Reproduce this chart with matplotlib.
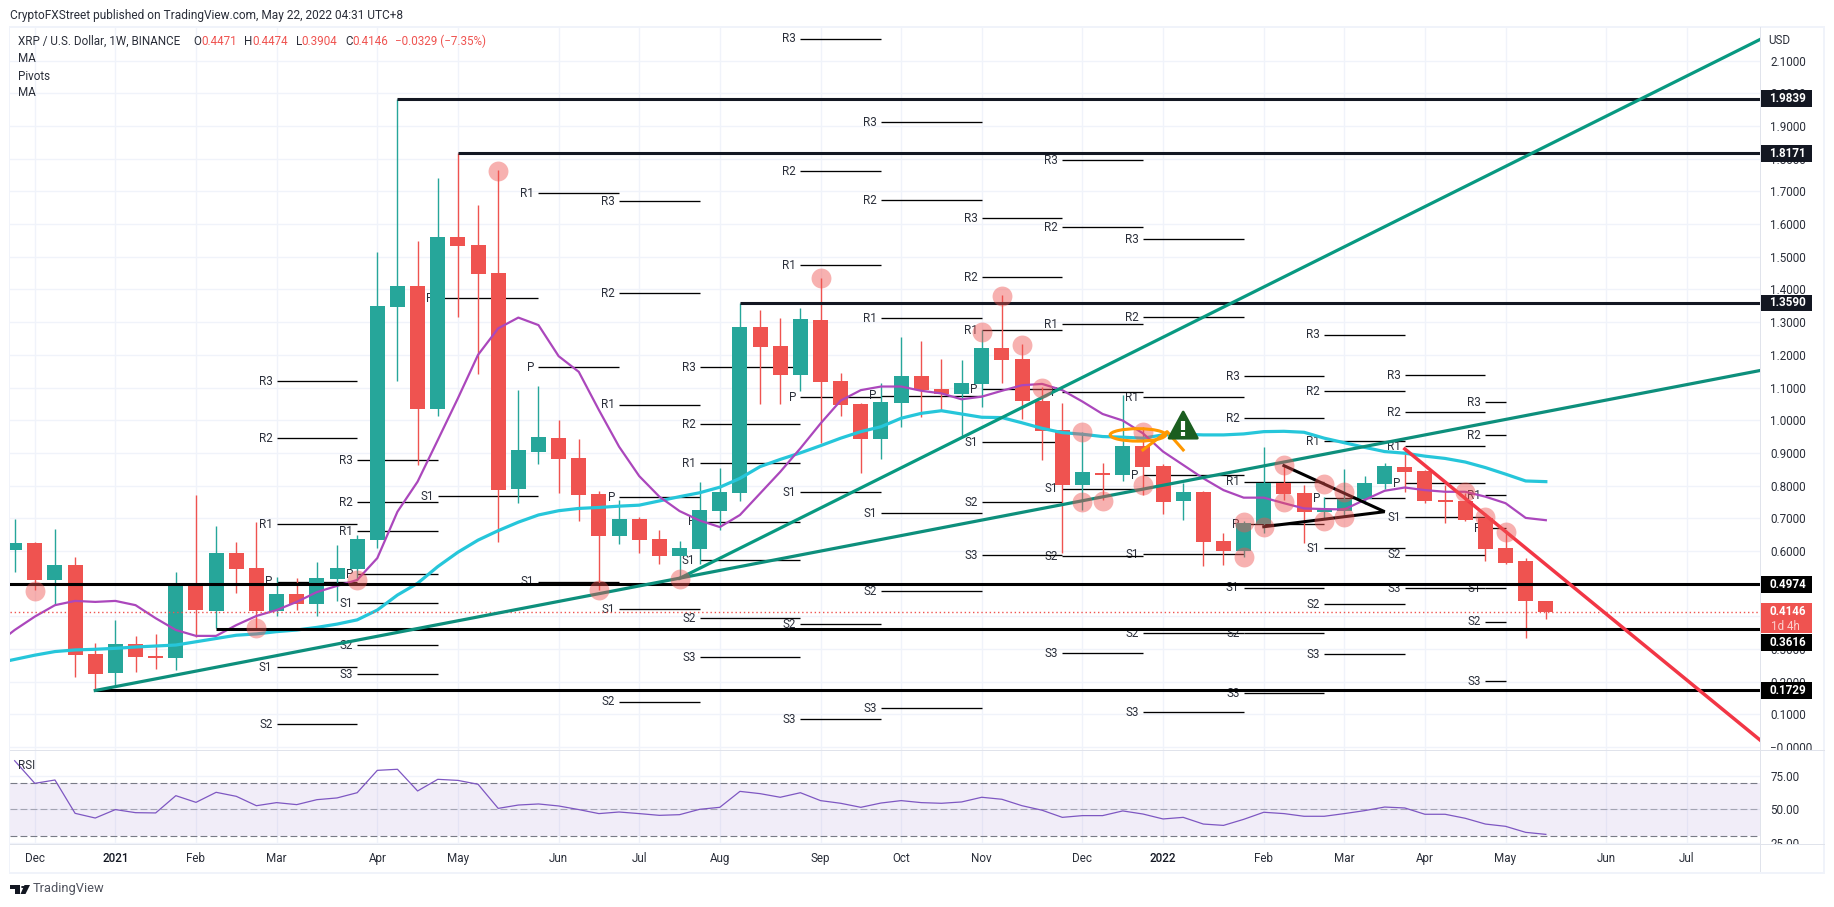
import numpy as np
import matplotlib
matplotlib.use('Agg')
import matplotlib.pyplot as plt
from matplotlib.patches import Rectangle, Ellipse, Polygon, Circle
from matplotlib.transforms import blended_transform_factory, Bbox

W, H = 1834, 907
GREEN = '#26a69a'
RED = '#ef5350'
DARK = '#131722'
GRID = '#f0f3fa'
BORDER = '#e0e3eb'
TEXT = '#2a2e39'

plt.rcParams['font.family'] = ['Roboto', 'DejaVu Sans']

# weekly candles, week 0 is the first December 2020 bar
weeks = np.arange(-1, 76)
opens = [.603, .624, .511, .557, .284, .226, .315, .278, .272, .499, .416, .594, .548, .416, .468, .438,
         .514, .545, .633, 1.346, 1.411, 1.034, 1.561, 1.536, 1.450, .789, .903, .946, .884, .774, .646,
         .698, .636, .584, .606, .722, .777, 1.285, 1.227, 1.138, 1.307, 1.120, 1.050, .943, 1.053, 1.135,
         1.095, 1.080, 1.111, 1.221, 1.187, 1.059, .970, .802, .838, .832, .921, .860, .753, .780, .630,
         .600, .682, .808, .777, .719, .722, .759, .805, .857, .845, .756, .753, .701, .609, .569, .4471]
highs = [.698, .626, .667, .581, .318, .389, .340, .346, .535, .771, .676, .627, .688, .520, .517, .566,
         .618, .649, 1.515, 1.984, 1.548, 1.741, 1.817, 1.658, 1.766, 1.092, 1.105, 1.001, .943, .783, .756,
         .704, .664, .630, .811, .854, 1.359, 1.337, 1.313, 1.343, 1.435, 1.144, 1.054, 1.114, 1.255, 1.242,
         1.187, 1.184, 1.276, 1.383, 1.233, 1.102, 1.052, .964, .869, 1.077, .980, .866, .808, .782, .655,
         .692, .918, .863, .802, .766, .851, .829, .869, .912, .847, .802, .776, .715, .664, .578, .4474]
lows = [.535, .480, .438, .215, .173, .190, .230, .239, .236, .336, .364, .471, .364, .401, .419, .401,
        .447, .511, .609, 1.121, .863, 1.013, 1.317, 1.141, .627, .747, .866, .777, .692, .480, .621,
        .594, .560, .521, .560, .664, .753, 1.050, 1.050, 1.089, .930, 1.013, .838, .881, .979, 1.010,
        1.028, .952, 1.041, 1.114, 1.004, .878, .594, .725, .756, .814, .771, .713, .695, .554, .557,
        .581, .654, .756, .624, .700, .705, .745, .789, .780, .747, .685, .693, .569, .560, .334, .3904]
closes = [.624, .511, .557, .282, .223, .315, .275, .272, .499, .419, .594, .545, .416, .468, .438, .517,
          .548, .636, 1.349, 1.411, 1.034, 1.561, 1.533, 1.447, .786, .909, .949, .881, .771, .646, .698,
          .633, .584, .609, .725, .780, 1.285, 1.224, 1.138, 1.310, 1.117, 1.047, .943, 1.056, 1.135, 1.092,
          1.080, 1.114, 1.221, 1.184, 1.059, .967, .802, .841, .832, .921, .857, .750, .780, .627, .600,
          .685, .808, .774, .719, .725, .759, .808, .860, .841, .753, .750, .695, .606, .563, .447, .4146]

# moving averages
ma_weeks = np.arange(-2, 76)
ma_purple = [.310, .358, .399, .434, .447, .444, .447, .434, .394, .358, .340, .340, .373, .401, .419, .444,
             .474, .493, .511, .578, .720, .812, .939, 1.067, 1.200, 1.281, 1.314, 1.291, 1.196, 1.148, 1.031,
             .919, .829, .766, .722, .693, .673, .710, .776, .842, .914, .990, 1.060, 1.092, 1.103, 1.103,
             1.090, 1.082, 1.064, 1.072, 1.090, 1.107, 1.111, 1.092, 1.057, 1.019, .999, .960, .904, .863,
             .822, .786, .763, .763, .746, .730, .728, .727, .756, .784, .794, .786, .781, .781, .766, .746,
             .701, .694]
ma_cyan = [.255, .268, .281, .292, .297, .299, .302, .306, .309, .312, .322, .332, .342, .346, .353, .358,
           .366, .376, .389, .419, .465, .501, .552, .596, .633, .662, .688, .710, .723, .730, .733, .737,
           .740, .753, .766, .778, .795, .822, .858, .880, .900, .922, .945, .965, .980, 1.006, 1.021, 1.029,
           1.019, 1.009, 1.008, .992, .975, .962, .957, .950, .948, .945, .955, .957, .955, .955, .958, .965,
           .966, .963, .945, .931, .917, .904, .899, .890, .883, .872, .855, .835, .814, .812]

rsi_values = [86.3, 69.4, 71.9, 47.0, 43.5, 49.8, 47.5, 47.3, 60.2, 55.2, 62.7, 59.7, 52.7, 55.0, 53.5, 57.2,
              58.5, 62.4, 79.1, 79.9, 63.7, 72.4, 71.6, 68.7, 50.7, 53.2, 54.0, 52.5, 49.8, 46.8, 48.0, 46.8,
              45.5, 46.0, 50.0, 51.5, 63.4, 61.7, 59.0, 62.4, 56.5, 54.5, 51.5, 54.7, 56.5, 55.0, 54.5, 55.5,
              59.0, 57.5, 52.7, 49.3, 44.0, 45.3, 45.3, 48.8, 46.5, 42.8, 44.0, 39.0, 38.0, 42.5, 47.8, 46.8,
              44.8, 44.8, 46.8, 49.0, 51.7, 51.0, 46.3, 46.3, 43.3, 39.0, 37.3, 32.8, 31.3]

# pivot periods
pivot_starts = [12, 16, 20, 25, 29, 33, 38, 42, 47, 51, 55, 60, 64, 68, 72]
pivot_ends = [16, 20, 25, 29, 33, 38, 42, 47, 51, 55, 60, 64, 68, 72, 73]
pivot_r3 = [1.119, .877, None, None, 1.670, 1.162, 2.168, 1.911, 1.618, 1.795, 1.553, 1.135, 1.261, 1.137, 1.055]
pivot_r2 = [.944, .749, None, None, 1.388, .987, 1.762, 1.673, 1.437, 1.590, 1.315, 1.006, 1.088, 1.024, .954]
pivot_r1 = [.681, .660, 2.21, 1.694, 1.047, .868, 1.474, 1.312, 1.275, 1.293, 1.070, .812, .935, .920, .770]
pivot_p = [.506, .528, 1.373, 1.162, .764, .690, 1.070, 1.075, 1.094, 1.085, .831, .681, .761, .807, .669]
pivot_s1 = [.244, .440, .767, .506, .421, .571, .779, .715, .932, .790, .590, .488, .608, .703, .486]
pivot_s2 = [.069, .311, None, None, .138, .394, .375, .476, .749, .583, .348, .348, .437, .589, .384]
pivot_s3 = [None, .222, None, None, None, .274, .085, .118, .586, .287, .106, .164, .284, .486, .201]

# horizontal levels drawn on the chart
level_prices = [1.9839, 1.8171, 1.3590, .4974, .3616, .1729]
level_starts = [18, 21, 35, -2, 9, 3]
level_colors = [DARK, DARK, DARK, 'black', 'black', 'black']
level_tag_prices = [1.9839, 1.8171, 1.3590, .4974, .320, .1729]

# trend lines (week, price)
steep_line = ([32, 85.63], [.516, 2.165])
shallow_line = ([3, 85.63], [.1729, 1.152])
red_line = ([68, 85.63], [.912, .0214])
triangle_weeks = [62, 67, 61]
triangle_prices = [.861, .720, .674]

# touch markers
touch_weeks = [0, 11, 16, 28, 23, 32, 39, 47, 48, 49, 50, 52, 52, 53, 55, 55,
               60, 60, 61, 62, 62, 64, 64, 65, 65, 71, 72, 73]
touch_prices = [.477, .363, .511, .480, 1.763, .514, 1.434, 1.271, 1.381, 1.230, 1.098, .965, .749, .753, .965, .802,
                .689, .580, .674, .863, .751, .805, .693, .780, .705, .781, .705, .659]

month_weeks = [0, 4, 8, 12, 17, 21, 26, 30, 34, 39, 43, 47, 52, 56, 61, 65, 69, 73, 78, 82]
month_labels = ['Dec', '2021', 'Feb', 'Mar', 'Apr', 'May', 'Jun', 'Jul', 'Aug', 'Sep', 'Oct', 'Nov', 'Dec',
                '2022', 'Feb', 'Mar', 'Apr', 'May', 'Jun', 'Jul']
price_ticks = np.arange(0, 22) / 10
rsi_ticks = [25, 50, 75]

LEFT, RIGHT, TOP, MID, LOW, FOOT = 9.5, 1760, 27, 750, 844, 872
XLIM = (-1.256, 85.63)

fig = plt.figure(figsize=(W / 100, H / 100), dpi=100, facecolor='white')
ax = fig.add_axes([LEFT / W, 1 - MID / H, (RIGHT - LEFT) / W, (MID - TOP) / H])
rsi = fig.add_axes([LEFT / W, 1 - LOW / H, (RIGHT - LEFT) / W, (LOW - MID) / H], sharex=ax)


def page_text(x, y, s, **kw):
    kw.setdefault('fontsize', 8.4)
    kw.setdefault('color', TEXT)
    kw.setdefault('va', 'center')
    fig.text(x / W, 1 - y / H, s, **kw)


def page_rect(x0, y0, x1, y1, color):
    fig.add_artist(Rectangle((x0 / W, 1 - y1 / H), (x1 - x0) / W, (y1 - y0) / H, color=color, lw=0,
                             transform=fig.transFigure))


# main pane
ax.set_xlim(XLIM)
ax.set_ylim(-0.0092, 2.2032)
ax.set_axisbelow(True)
ax.grid(True, color=GRID, lw=1)
for s in ax.spines.values():
    s.set_visible(False)
for s in rsi.spines.values():
    s.set_visible(False)

for name, vals in [('R3', pivot_r3), ('R2', pivot_r2), ('R1', pivot_r1), ('P', pivot_p),
                   ('S1', pivot_s1), ('S2', pivot_s2), ('S3', pivot_s3)]:
    for start, end, v in zip(pivot_starts, pivot_ends, vals):
        if v is None:
            continue
        ax.plot([start, end], [v, v], color='black', lw=0.95, zorder=2, solid_capstyle='butt')
        ax.annotate(name, (start, v), xytext=(-3, 0), textcoords='offset points', ha='right', va='center',
                    fontsize=8.4, color=TEXT, zorder=2, annotation_clip=False, clip_on=True)

opens_a, closes_a = np.array(opens), np.array(closes)
colors = [GREEN if c >= o else RED for o, c in zip(opens_a, closes_a)]
ax.vlines(weeks, lows, highs, colors=colors, lw=1, zorder=3)
ax.bar(weeks, np.abs(closes_a - opens_a), bottom=np.minimum(opens_a, closes_a), width=0.745, color=colors,
       lw=0, zorder=3)

ax.plot(ma_weeks, ma_cyan, color='#26c6da', lw=2.3, zorder=4)
ax.plot(ma_weeks, ma_purple, color='#ab47bc', lw=1.6, zorder=4)

ax.axhline(closes[-1], color=RED, lw=1, ls=(0, (1, 2)), zorder=4)
for p, start, c in zip(level_prices, level_starts, level_colors):
    ax.hlines(p, start, XLIM[1], colors=c, lw=2.2, zorder=5)

ax.plot(*steep_line, color='#089981', lw=2.3, zorder=6)
ax.plot(*shallow_line, color='#0d8f7c', lw=2.3, zorder=6)
ax.plot(*red_line, color='#f23645', lw=2.5, zorder=6)
ax.plot(triangle_weeks, triangle_prices, color='black', lw=2.2, zorder=6, solid_joinstyle='miter')

ax.scatter(touch_weeks, touch_prices, s=205, color=RED, alpha=0.45, linewidths=0, zorder=7)

# orange sketch and warning sign
ax.add_patch(Ellipse((54.75, .955), 2.75, .038, fill=False, ec='#ff9800', lw=2.2, zorder=8))
ax.plot([55.0, 56.2, 57.0], [.909, .965, .909], color='#ff9800', lw=2.2, zorder=8)
ax.add_patch(Polygon([(56.3, .945), (57.7, .945), (57, 1.025)], closed=True, fc='#1b5e20', ec='#1b5e20',
                     lw=2, joinstyle='round', zorder=9))
ax.plot([57, 57], [.970, .998], color='white', lw=3, zorder=10, solid_capstyle='butt')
ax.plot([57, 57], [.952, .963], color='white', lw=3, zorder=10, solid_capstyle='butt')

ax.set_yticks(price_ticks)
ax.set_yticklabels(['%.4f' % t if t else '\u22120.0000' for t in price_ticks])
ax.yaxis.tick_right()
ax.tick_params(axis='y', length=0, pad=7.5, labelsize=8.4, labelcolor=TEXT)
ax.tick_params(axis='x', length=0, labelbottom=False)
ax.set_xticks(month_weeks)

# rsi pane
rsi.set_ylim(24.1, 94.3)
rsi.set_axisbelow(True)
rsi.grid(True, color=GRID, lw=1)
rsi.axhspan(30, 70, color='#7e57c2', alpha=0.1, lw=0, zorder=1)
rsi.axhline(70, color='#787b86', lw=0.8, ls=(0, (6.2, 2.8)), zorder=2)
rsi.axhline(50, color='#787b86', lw=0.8, ls=(0, (6.2, 2.8)), alpha=0.6, zorder=2)
rsi.axhline(30, color='#787b86', lw=0.8, ls=(0, (6.2, 2.8)), zorder=2)
rsi.plot(weeks, rsi_values, color='#7e57c2', lw=0.9, zorder=3)
rsi.set_yticks(rsi_ticks)
rsi.set_yticklabels(['%.2f' % t for t in rsi_ticks])
rsi.yaxis.tick_right()
rsi.tick_params(axis='y', length=0, pad=7.5, labelsize=8.4, labelcolor=TEXT)
rsi.set_xticks(month_weeks)
rsi.set_xticklabels(month_labels)
rsi.tick_params(axis='x', length=0, pad=5.5, labelsize=8.4, labelcolor=TEXT)
for lab in rsi.get_xticklabels():
    if lab.get_text() in ('2021', '2022'):
        lab.set_fontweight('medium')
        lab.set_color(DARK)

# axis labels are cut off where the panes end
main_clip = Bbox([[RIGHT, H - MID], [W, H - TOP]])
for lab in ax.get_yticklabels():
    lab.set_clip_box(main_clip)
    lab.set_clip_on(True)
rsi_clip = Bbox([[RIGHT, H - LOW], [W, H - MID]])
for lab in rsi.get_yticklabels():
    lab.set_clip_box(rsi_clip)
    lab.set_clip_on(True)

# frame of the widget
page_rect(LEFT - 1, TOP - 1.5, 1825, TOP + 1, GRID)
page_rect(LEFT - 1, TOP, LEFT + 0.5, FOOT, GRID)
page_rect(1823, TOP, 1825, FOOT, GRID)
page_rect(LEFT - 1, FOOT, 1825, FOOT + 2, GRID)
page_rect(LEFT, MID - 0.5, 1825, MID + 0.5, BORDER)
page_rect(LEFT, LOW - 0.5, 1825, LOW + 0.5, BORDER)
page_rect(RIGHT - 0.5, TOP, RIGHT + 0.5, FOOT, BORDER)

# price tags
tag_tr = blended_transform_factory(ax.transAxes, ax.transData)
tag_w = 51.5 / (RIGHT - LEFT)
tag_h = 16.7 / ((MID - TOP) / (ax.get_ylim()[1] - ax.get_ylim()[0]))
tag_text_x = 1 + 27.5 / (RIGHT - LEFT)
for lev, tag_p, c in zip(level_prices, level_tag_prices, level_colors):
    ax.add_patch(Rectangle((1, tag_p - tag_h / 2), tag_w, tag_h, transform=tag_tr, color=c, lw=0,
                           clip_on=False, zorder=20))
    ax.text(tag_text_x, tag_p, '%.4f' % lev, transform=tag_tr,
            ha='center', va='center', color='white', fontsize=8.4, fontweight='bold', clip_on=False, zorder=21)
cur_h = 30 / ((MID - TOP) / (ax.get_ylim()[1] - ax.get_ylim()[0]))
ax.add_patch(Rectangle((1, closes[-1] + 9 / 326.8 - cur_h), tag_w, cur_h, transform=tag_tr, color=RED,
                       lw=0, clip_on=False, zorder=20))
ax.text(tag_text_x, closes[-1], '%.4f' % closes[-1], transform=tag_tr, ha='center', va='center',
        color='white', fontsize=8.4, fontweight='bold', clip_on=False, zorder=21)
page_text(1785, 626, '1d 4h', ha='center', color='#fbd0ce', fontsize=8.4)

# header and legend
page_text(9.5, 15, 'CryptoFXStreet published on TradingView.com, May 22, 2022 04:31 UTC+8', fontsize=8.6)
page_text(18, 41.7, 'XRP / U.S. Dollar, 1W, BINANCE')
for x, s, c in [(193, 'O', TEXT), (201, '0.4471', RED), (244, 'H', TEXT), (252, '0.4474', RED),
                (296, 'L', TEXT), (301, '0.3904', RED), (345, 'C', TEXT), (352, '0.4146', RED),
                (395, '\u22120.0329 (\u22127.35%)', RED)]:
    page_text(x, 41.7, s, color=c)
page_text(18, 59, 'MA')
page_text(18, 76, 'Pivots')
page_text(18, 93, 'MA')
page_text(18, 765.7, 'RSI')
page_text(1768, 40, 'USD')

# logo
page_rect(10, 885, 20, 889, DARK)
page_rect(14.5, 885, 20, 894, DARK)
fig.add_artist(Circle((23 / W, 1 - 887 / H), 2 / W, color=DARK, lw=0, transform=fig.transFigure))
fig.add_artist(Polygon([(24.5 / W, 1 - 885 / H), (30 / W, 1 - 885 / H), (25.5 / W, 1 - 894 / H), (20.5 / W, 1 - 894 / H)],
                       closed=True, color=DARK, lw=0, transform=fig.transFigure))
page_text(33, 888.5, 'TradingView', fontsize=9.3, color='#50535e')

fig.savefig('out.png', dpi=100, facecolor='white')
